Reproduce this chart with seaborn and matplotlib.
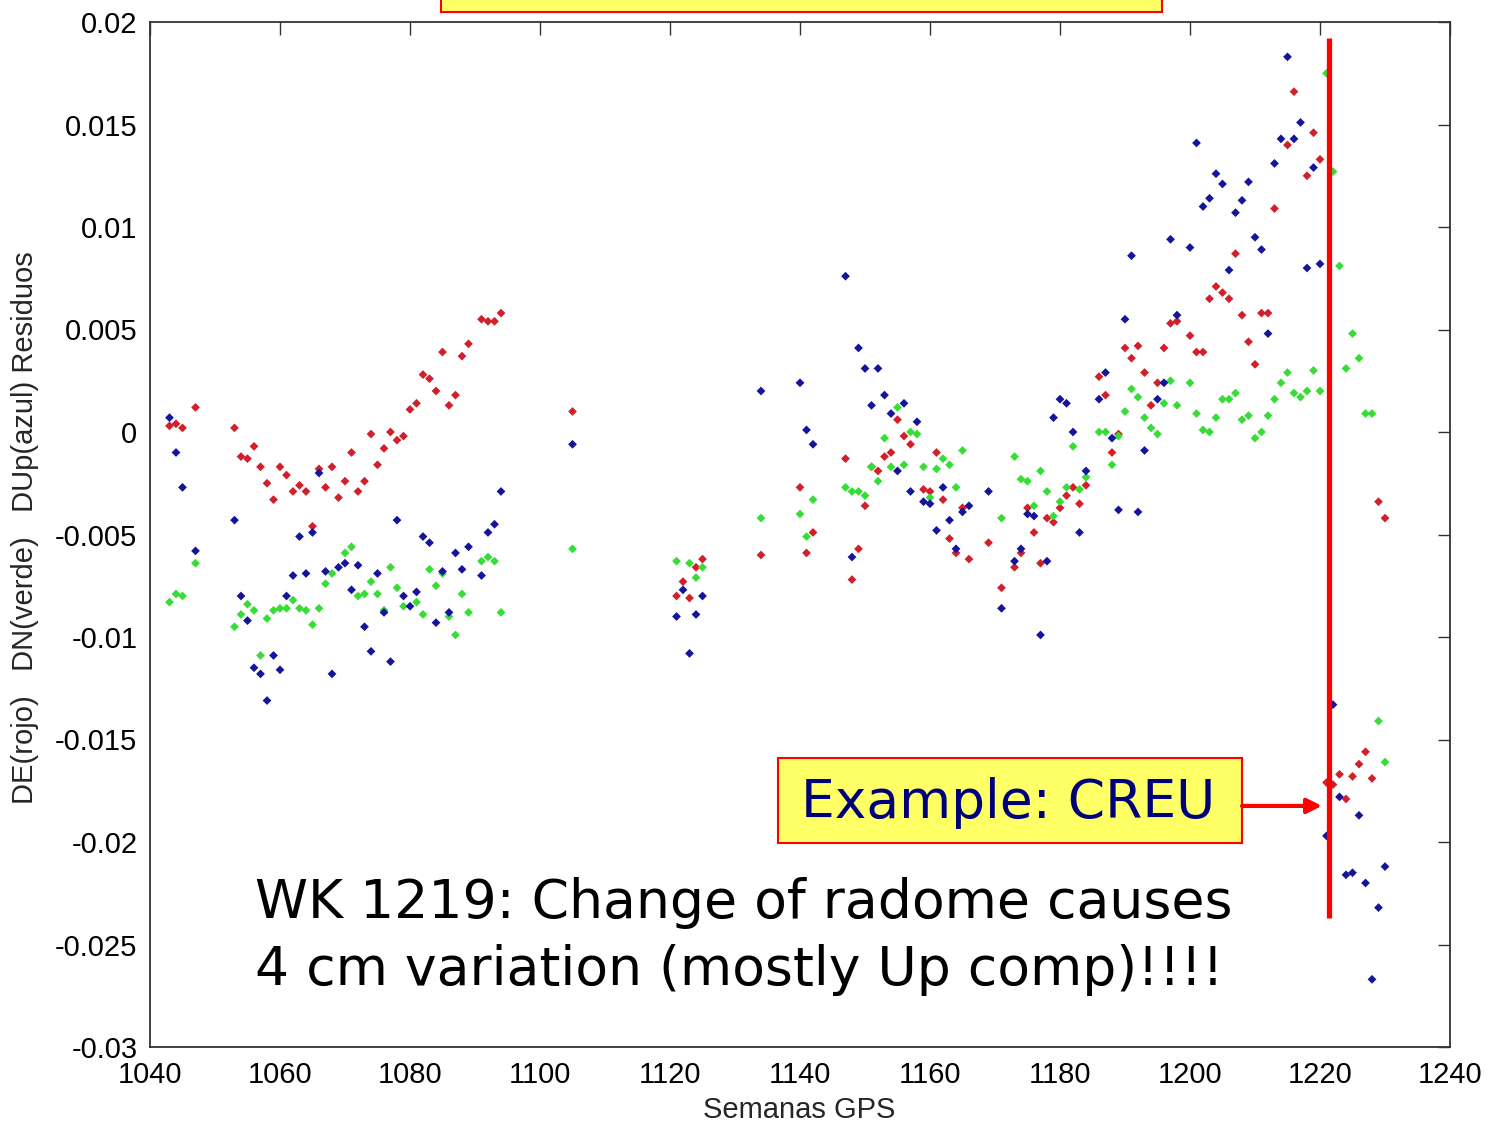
import numpy as np
import pandas as pd
import matplotlib
matplotlib.use("Agg")
import matplotlib.pyplot as plt
from matplotlib.patches import Rectangle
import seaborn as sns

nan = np.nan

# GPS weeks
weeks = [
    1043, 1044, 1045, 1047, 1053, 1054, 1055, 1056, 1057, 1058,
    1059, 1060, 1061, 1062, 1063, 1064, 1065, 1066, 1067, 1068,
    1069, 1070, 1071, 1072, 1073, 1074, 1075, 1076, 1077, 1078,
    1079, 1080, 1081, 1082, 1083, 1084, 1085, 1086, 1087, 1088,
    1089, 1091, 1092, 1093, 1094, 1105, 1121, 1122, 1123, 1124,
    1125, 1134, 1140, 1141, 1142, 1147, 1148, 1149, 1150, 1151,
    1152, 1153, 1154, 1155, 1156, 1157, 1158, 1159, 1160, 1161,
    1162, 1163, 1164, 1165, 1166, 1169, 1171, 1173, 1174, 1175,
    1176, 1177, 1178, 1179, 1180, 1181, 1182, 1183, 1184, 1186,
    1187, 1188, 1189, 1190, 1191, 1192, 1193, 1194, 1195, 1196,
    1197, 1198, 1200, 1201, 1202, 1203, 1204, 1205, 1206, 1207,
    1208, 1209, 1210, 1211, 1212, 1213, 1214, 1215, 1216, 1217,
    1218, 1219, 1220, 1221, 1222, 1223, 1224, 1225, 1226, 1227,
    1228, 1229, 1230,
]

# DE (rojo) residuals
de_rojo = [
    0.0003, 0.0004, 0.0002, 0.0012, 0.0002, -0.0012, -0.0013, -0.0007, -0.0017, -0.0025,
    -0.0033, -0.0017, -0.0021, -0.0029, -0.0026, -0.0029, -0.0046, -0.0018, -0.0027, -0.0017,
    -0.0032, -0.0024, -0.0010, -0.0029, -0.0024, -0.0001, -0.0016, -0.0008, 0.0000, -0.0004,
    -0.0002, 0.0011, 0.0014, 0.0028, 0.0026, 0.0020, 0.0039, 0.0013, 0.0018, 0.0037,
    0.0043, 0.0055, 0.0054, 0.0054, 0.0058, 0.0010, -0.0080, -0.0073, -0.0081, -0.0066,
    -0.0062, -0.0060, -0.0027, -0.0059, -0.0049, -0.0013, -0.0072, -0.0057, -0.0036, -0.0017,
    -0.0019, -0.0012, -0.0010, 0.0006, -0.0002, -0.0006, nan, -0.0028, -0.0029, -0.0010,
    -0.0033, -0.0052, -0.0059, -0.0037, -0.0062, -0.0054, -0.0076, -0.0066, -0.0059, -0.0037,
    -0.0049, -0.0064, -0.0042, -0.0044, -0.0037, -0.0031, -0.0027, -0.0035, -0.0026, 0.0027,
    0.0018, -0.0010, -0.0001, 0.0041, 0.0036, 0.0042, 0.0029, 0.0013, 0.0024, 0.0041,
    0.0053, 0.0054, 0.0047, 0.0039, 0.0039, 0.0065, 0.0071, 0.0068, 0.0065, 0.0087,
    0.0057, 0.0044, 0.0033, 0.0058, 0.0058, 0.0109, nan, 0.0140, 0.0166, nan,
    0.0125, 0.0146, 0.0133, -0.0171, -0.0172, -0.0167, -0.0179, -0.0168, -0.0162, -0.0156,
    -0.0169, -0.0034, -0.0042,
]

# DN (verde) residuals
dn_verde = [
    -0.0083, -0.0079, -0.0080, -0.0064, -0.0095, -0.0089, -0.0084, -0.0087, -0.0109, -0.0091,
    -0.0087, -0.0086, -0.0086, -0.0082, -0.0086, -0.0087, -0.0094, -0.0086, -0.0074, -0.0069,
    nan, -0.0059, -0.0056, -0.0080, -0.0079, -0.0073, -0.0079, -0.0087, -0.0066, -0.0076,
    -0.0085, nan, -0.0083, -0.0089, -0.0067, -0.0075, -0.0069, -0.0090, -0.0099, -0.0079,
    -0.0088, -0.0063, -0.0061, -0.0063, -0.0088, -0.0057, -0.0063, nan, -0.0064, -0.0071,
    -0.0066, -0.0042, -0.0040, -0.0051, -0.0033, -0.0027, -0.0029, -0.0029, -0.0031, -0.0017,
    -0.0024, -0.0003, -0.0017, 0.0012, -0.0016, 0.0000, -0.0001, -0.0017, -0.0032, -0.0018,
    -0.0013, -0.0016, -0.0027, -0.0009, nan, nan, -0.0042, -0.0012, -0.0023, -0.0024,
    -0.0036, -0.0019, -0.0029, -0.0041, -0.0034, -0.0027, -0.0007, -0.0028, -0.0022, 0.0000,
    0.0000, -0.0016, -0.0002, 0.0010, 0.0021, 0.0017, 0.0007, 0.0002, -0.0001, 0.0014,
    0.0025, 0.0013, 0.0024, 0.0009, 0.0001, 0.0000, 0.0007, 0.0016, 0.0016, 0.0019,
    0.0006, 0.0008, -0.0003, 0.0000, 0.0008, 0.0016, 0.0024, 0.0029, 0.0019, 0.0017,
    0.0020, 0.0030, 0.0020, 0.0175, 0.0127, 0.0081, 0.0031, 0.0048, 0.0036, 0.0009,
    0.0009, -0.0141, -0.0161,
]

# DUp (azul) residuals
dup_azul = [
    0.0007, -0.0010, -0.0027, -0.0058, -0.0043, -0.0080, -0.0092, -0.0115, -0.0118, -0.0131,
    -0.0109, -0.0116, -0.0080, -0.0070, -0.0051, -0.0069, -0.0049, -0.0020, -0.0068, -0.0118,
    -0.0066, -0.0064, -0.0077, -0.0065, -0.0095, -0.0107, -0.0069, -0.0088, -0.0112, -0.0043,
    -0.0080, -0.0085, -0.0078, -0.0051, -0.0054, -0.0093, -0.0068, -0.0088, -0.0059, -0.0067,
    -0.0056, -0.0070, -0.0049, -0.0045, -0.0029, -0.0006, -0.0090, -0.0077, -0.0108, -0.0089,
    -0.0080, 0.0020, 0.0024, 0.0001, -0.0006, 0.0076, -0.0061, 0.0041, 0.0031, 0.0013,
    0.0031, 0.0018, 0.0009, -0.0019, 0.0014, -0.0029, 0.0005, -0.0034, -0.0035, -0.0048,
    -0.0027, -0.0043, -0.0057, -0.0039, -0.0036, -0.0029, -0.0086, -0.0063, -0.0057, -0.0040,
    -0.0041, -0.0099, -0.0063, 0.0007, 0.0016, 0.0014, 0.0000, -0.0049, -0.0019, 0.0016,
    0.0029, -0.0003, -0.0038, 0.0055, 0.0086, -0.0039, -0.0009, nan, 0.0016, 0.0024,
    0.0094, 0.0057, 0.0090, 0.0141, 0.0110, 0.0114, 0.0126, 0.0121, 0.0079, 0.0107,
    0.0113, 0.0122, 0.0095, 0.0089, 0.0048, 0.0131, 0.0143, 0.0183, 0.0143, 0.0151,
    0.0080, 0.0129, 0.0082, -0.0197, -0.0133, -0.0178, -0.0216, -0.0215, -0.0187, -0.0220,
    -0.0267, -0.0232, -0.0212,
]

x_ticks = [1040, 1060, 1080, 1100, 1120, 1140, 1160, 1180, 1200, 1220, 1240]
y_ticks = [-0.03, -0.025, -0.02, -0.015, -0.01, -0.005, 0, 0.005, 0.01, 0.015, 0.02]
y_tick_labels = ["-0.03", "-0.025", "-0.02", "-0.015", "-0.01", "-0.005", "0",
                 "0.005", "0.01", "0.015", "0.02"]

# radome change annotation
change_week = 1221.4
change_top, change_bottom = 0.0192, -0.0237

df = pd.concat([
    pd.DataFrame({"week": weeks, "value": de_rojo, "comp": "DE"}),
    pd.DataFrame({"week": weeks, "value": dn_verde, "comp": "DN"}),
    pd.DataFrame({"week": weeks, "value": dup_azul, "comp": "DUp"}),
]).dropna()

sns.set_style("white")
plt.rcParams["font.family"] = ["Liberation Sans", "DejaVu Sans"]

fig = plt.figure(figsize=(14.97, 11.23), dpi=100)
ax = fig.add_axes([150 / 1497, 1 - 1047 / 1123, 1300 / 1497, 1025 / 1123])

palette = {"DE": "#d21f2a", "DN": "#35dd35", "DUp": "#14149c"}
sns.scatterplot(data=df, x="week", y="value", hue="comp", palette=palette,
                marker="D", s=20, linewidth=0, legend=False, ax=ax, zorder=3)

ax.set_xlim(1040, 1240)
ax.set_ylim(-0.03, 0.02)
ax.set_xticks(x_ticks)
ax.set_xticklabels([str(t) for t in x_ticks])
ax.set_yticks(y_ticks)
ax.set_yticklabels(y_tick_labels)
ax.tick_params(direction="in", top=True, right=True, length=9, width=1,
               color="#333333", labelsize=21, labelcolor="black")
ax.tick_params(axis="x", pad=10)
ax.tick_params(axis="y", pad=9)
for sp in ax.spines.values():
    sp.set_color("#333333")
    sp.set_linewidth(1.3)

ax.set_xlabel("Semanas GPS", fontsize=21)
ax.set_ylabel("DE(rojo)   DN(verde)   DUp(azul) Residuos", fontsize=21)
ax.xaxis.set_label_coords(0.499, -0.048)
ax.yaxis.set_label_coords(-0.085, 0.507)

# vertical red line at radome change
ax.plot([change_week, change_week], [change_top, change_bottom],
        color="#ff0000", lw=3.8, solid_capstyle="butt", zorder=4)

# "Example: CREU" box
ax.add_patch(Rectangle((1136.6, -0.02005), 71.4, 0.00415, facecolor="#ffff66",
                       edgecolor="#ff0000", lw=1.5, zorder=5))
ax.text(1172.0, -0.0181, "Example: CREU", fontsize=38.5, color="#00007a",
        family="DejaVu Sans", ha="center", va="center", zorder=6)
ax.annotate("", xy=(1220.3, -0.01824), xytext=(1208.0, -0.01824),
            arrowprops=dict(arrowstyle="-|>", color="#ff0000", lw=3,
                            mutation_scale=22, shrinkA=0, shrinkB=0), zorder=6)

ax.text(1056.2, -0.02371, "WK 1219: Change of radome causes", fontsize=38.6,
        color="black", family="DejaVu Sans", ha="left", va="baseline", zorder=6)
ax.text(1056.2, -0.02698, "4 cm variation (mostly Up comp)!!!!", fontsize=38.6,
        color="black", family="DejaVu Sans", ha="left", va="baseline", zorder=6)

# partially visible title box at the top
fig.patches.append(Rectangle((441 / 1497, 1 - 12 / 1123), (1162 - 441) / 1497, 0.05,
                             transform=fig.transFigure, facecolor="#ffff66",
                             edgecolor="#ff0000", lw=1.5))

fig.savefig("out.png", dpi=100, facecolor="white")
